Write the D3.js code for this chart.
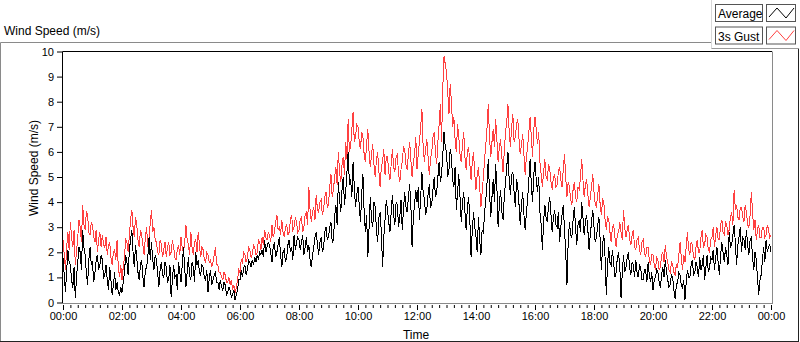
<!DOCTYPE html>
<meta charset="utf-8">
<style>
body{margin:0;background:#fff;}
svg{display:block;font-family:"Liberation Sans",Arial,sans-serif;}
.tick text{font-size:11px;fill:#000;}
.tick line{stroke:#000;}
</style>
<svg id="chart" width="800" height="342"></svg>
<script src="https://d3js.org/d3.v7.min.js"></script>
<script>
// one sample every 2.5 minutes, 00:00 .. 24:00 (24 per row = 1 hour)
const gust = [
  2.5,1.9,1.3,2.2,2.8,2.1,3.2,2.6,2.2,2.9,1.5,2.0,2.6,3.3,3.0,2.4,3.9,3.1,2.9,3.6,3.5,2.8,2.7,3.2,
  3.1,2.6,2.4,2.9,2.0,2.5,2.8,2.2,2.7,2.3,2.2,2.6,1.9,2.3,2.4,1.8,1.5,2.0,2.1,1.7,2.5,1.4,1.0,1.5,
  0.9,1.4,1.8,2.5,2.4,2.0,2.7,3.3,3.7,3.0,2.6,3.4,3.1,2.5,2.2,2.9,2.7,2.3,1.9,2.6,3.0,2.2,2.4,3.2,
  3.7,2.8,3.0,2.5,2.4,2.0,1.9,2.5,2.3,1.8,2.1,2.4,1.8,2.2,2.4,1.9,2.0,2.5,2.2,1.8,1.7,2.1,2.3,1.9,
  2.6,2.2,2.0,2.4,3.1,2.5,2.3,1.9,2.8,2.2,1.9,2.4,2.5,2.0,2.8,2.3,1.8,2.2,2.1,1.7,1.6,2.0,1.9,1.6,
  1.7,1.4,1.6,1.9,2.2,1.5,1.5,1.2,1.2,1.0,0.9,1.2,1.1,0.8,0.8,1.0,0.7,0.9,0.5,0.7,0.4,0.6,0.9,1.3,
  1.2,1.7,1.6,2.0,1.9,1.6,1.8,2.2,2.1,1.8,1.9,2.3,2.2,1.9,2.0,2.5,2.4,2.1,2.6,2.3,2.9,2.6,2.5,2.8,
  2.7,2.4,3.1,2.6,2.8,3.2,3.5,2.9,3.0,2.7,3.3,2.8,2.6,3.0,3.1,2.7,2.8,3.3,3.5,2.9,3.0,3.4,3.2,2.8,
  2.9,3.3,3.4,2.8,3.0,3.5,3.6,3.1,4.6,3.7,3.2,3.6,3.8,3.3,4.3,3.7,3.6,4.0,4.1,3.5,3.7,4.2,4.4,3.8,
  3.9,4.6,5.1,4.2,4.5,5.0,5.4,4.7,6.0,5.2,4.8,5.5,5.8,5.1,6.4,5.7,7.3,6.0,6.2,6.9,7.6,6.4,6.6,7.1,
  7.0,6.4,6.1,6.8,6.6,5.9,5.6,6.3,6.9,6.0,5.4,5.9,6.3,5.5,5.0,5.7,6.0,5.2,4.6,5.4,5.6,6.1,5.1,5.8,
  5.8,5.2,4.9,5.5,6.1,5.4,5.2,5.8,5.9,5.1,4.8,5.3,5.6,6.2,6.1,5.5,5.3,5.9,6.4,5.7,5.0,5.6,5.9,6.6,
  5.3,5.9,6.4,7.0,7.7,6.2,5.6,6.1,6.5,5.8,5.1,5.7,6.0,6.6,6.8,6.0,5.5,6.4,7.1,7.9,6.4,8.6,9.8,9.5,
  9.2,8.4,7.5,8.7,8.0,7.0,7.4,6.5,6.0,7.1,6.6,5.9,5.6,6.3,6.8,5.8,5.3,6.0,6.2,5.5,4.9,5.6,6.0,5.1,
  4.5,5.1,5.4,4.6,3.8,4.4,5.0,5.7,6.3,7.0,7.9,6.6,5.8,6.4,6.9,6.2,7.3,6.5,5.6,6.2,6.5,5.8,5.2,6.0,
  6.8,7.2,7.9,6.8,6.2,7.0,7.5,6.4,6.6,7.1,7.3,6.5,5.9,6.3,6.7,5.9,5.1,5.8,6.2,6.8,7.4,6.6,5.8,6.9,
  7.4,6.9,6.3,6.8,5.6,5.1,4.6,5.2,5.7,5.0,4.9,5.5,5.3,4.8,4.5,5.0,5.1,4.6,4.7,5.2,5.4,4.9,4.6,5.3,
  5.9,5.0,4.2,4.8,4.6,4.1,3.9,4.5,4.8,4.2,4.0,4.6,4.5,5.0,5.7,4.9,4.2,4.7,4.9,4.3,3.8,4.2,4.6,5.1,
  4.4,3.9,3.8,4.3,4.7,3.9,3.5,4.1,4.0,3.3,2.9,3.4,3.3,2.8,2.4,3.0,3.1,2.6,2.2,2.7,2.8,3.2,2.8,2.5,
  3.7,3.0,2.6,2.9,3.1,2.5,2.3,2.7,2.9,2.2,2.1,2.5,2.6,2.1,1.9,2.4,2.5,2.0,1.8,2.2,2.2,1.7,1.5,1.9,
  1.9,1.5,1.3,1.8,1.7,1.3,1.4,1.9,2.0,1.6,2.3,1.8,1.6,1.3,1.2,1.6,1.5,1.2,1.1,1.5,1.4,1.9,2.4,1.8,
  1.3,1.9,1.6,2.2,2.8,2.1,1.9,2.4,2.3,1.8,1.7,2.2,2.5,2.0,2.0,2.6,2.9,2.2,2.3,2.7,2.6,2.1,2.0,2.5,
  2.6,3.0,2.2,2.7,3.0,2.5,2.5,3.1,3.3,2.8,2.7,3.2,3.1,2.7,2.9,3.4,3.6,3.1,4.5,3.7,3.9,3.4,3.3,3.8,
  3.8,3.4,3.2,3.9,3.6,3.1,3.0,3.5,4.4,3.6,2.9,3.3,2.5,2.9,3.1,2.6,2.6,3.0,3.0,2.6,2.7,3.1,2.9,2.6,
  2.7
]
const average = [
  1.8,1.1,0.4,1.3,2.1,1.6,1.5,0.9,0.6,1.4,0.2,1.0,1.6,2.2,2.0,1.3,2.9,2.2,1.9,1.2,0.7,1.7,2.2,1.5,
  1.6,0.8,1.2,1.7,1.9,1.3,1.5,1.9,1.7,1.0,1.1,1.5,0.9,0.5,1.4,0.9,0.3,0.7,1.2,0.5,0.8,0.4,0.3,0.6,
  0.4,0.8,1.2,1.9,1.6,1.1,2.1,2.5,2.9,2.0,1.4,2.3,1.8,1.2,0.9,1.5,1.7,1.0,0.6,1.3,1.4,1.8,2.6,1.7,
  2.4,1.7,1.3,1.9,1.7,1.2,0.6,1.3,1.6,1.1,1.0,1.6,1.4,0.8,0.9,1.5,0.2,0.9,1.5,1.0,1.1,0.5,1.6,1.2,
  0.8,1.5,2.2,1.4,0.6,1.2,1.8,1.1,0.9,1.6,1.4,0.8,2.0,1.5,1.7,1.2,1.1,1.5,1.4,1.0,0.9,1.3,0.4,1.0,
  1.3,0.7,0.9,1.1,1.2,0.8,0.8,0.5,0.9,0.6,0.5,0.8,0.7,0.3,0.4,0.6,0.5,0.2,0.3,0.5,0.1,0.3,0.5,0.9,
  0.9,1.3,1.0,1.4,1.5,1.1,1.3,1.7,1.6,1.4,1.7,1.5,1.8,1.6,1.9,1.7,2.0,1.9,2.1,1.8,2.5,2.0,2.2,2.4,
  2.3,2.0,1.6,2.2,2.4,1.8,2.0,2.3,2.6,1.9,1.4,2.0,2.1,1.6,1.8,2.3,2.5,2.0,2.2,1.7,2.7,2.1,2.4,2.6,
  2.5,2.1,2.4,2.7,1.9,2.2,2.6,2.0,2.3,1.7,1.4,1.9,2.2,2.6,2.8,2.3,1.9,2.4,2.6,2.0,2.2,2.8,3.0,2.5,
  2.6,3.0,3.2,2.4,2.5,3.4,3.9,3.1,4.8,4.1,3.6,4.5,5.0,3.9,4.4,5.2,6.0,4.7,4.9,4.2,5.6,4.6,3.8,4.3,
  4.6,3.9,3.2,4.3,5.1,3.6,2.8,3.5,1.8,3.0,4.2,3.3,3.0,4.0,3.8,2.9,2.4,3.4,3.6,2.8,1.4,2.6,3.3,4.1,
  3.7,3.2,2.8,3.6,4.3,3.5,3.1,4.0,3.9,3.0,3.4,4.1,2.9,3.7,4.4,3.8,3.6,4.2,4.7,3.9,2.2,3.4,3.9,4.5,
  4.0,4.6,3.3,4.2,5.2,4.4,4.1,3.5,3.7,4.3,4.7,3.8,3.9,4.5,5.0,4.2,4.4,5.0,5.6,4.8,5.1,5.9,6.8,6.2,
  6.0,5.0,5.3,6.1,5.8,4.9,4.6,5.4,3.7,4.4,5.1,4.2,3.2,4.0,4.4,3.6,2.9,3.8,4.2,3.3,1.8,2.9,3.6,3.0,
  2.6,2.0,3.4,2.5,1.9,2.9,2.8,3.6,4.1,4.8,5.7,4.4,3.4,4.2,4.9,4.0,5.5,4.6,3.0,3.9,4.5,3.6,3.3,4.2,
  4.8,5.4,6.0,4.9,4.3,5.1,5.2,4.4,3.8,4.9,4.6,3.9,3.1,3.9,4.4,3.5,2.9,3.6,4.1,4.9,5.7,4.7,4.0,5.1,
  5.6,4.9,4.4,5.0,3.6,3.1,2.1,3.2,3.9,3.4,3.2,3.9,4.2,3.5,2.8,3.4,3.7,3.1,3.0,3.6,2.4,3.0,3.5,3.9,
  2.9,2.0,0.7,2.4,3.2,2.7,2.6,3.3,3.8,3.0,2.3,3.1,3.3,2.8,4.0,3.4,2.7,3.2,3.5,2.9,2.1,2.7,3.2,3.7,
  3.0,2.4,2.6,3.1,3.4,2.5,1.3,2.3,2.7,1.8,0.3,1.5,2.2,1.6,1.5,2.1,1.6,1.0,1.2,1.8,2.0,1.4,0.2,1.2,
  1.9,1.2,1.4,1.8,2.0,1.4,1.1,1.6,1.5,1.0,1.7,1.2,1.0,1.5,1.4,0.9,0.9,1.3,1.3,0.8,1.6,1.1,0.8,1.2,
  0.5,0.9,1.0,1.3,1.2,0.8,0.6,1.1,1.4,1.0,1.7,1.2,0.9,0.6,0.7,1.1,1.0,0.5,0.15,0.7,0.8,1.2,1.1,0.7,
  0.6,0.9,0.1,0.8,1.3,1.0,1.0,1.5,1.7,1.1,1.2,1.6,1.4,1.0,1.8,1.3,1.5,1.9,0.9,1.4,1.9,1.2,1.4,1.8,
  1.7,2.1,1.3,1.8,2.2,1.6,1.1,1.9,2.4,2.0,1.6,2.2,1.9,1.5,2.8,2.2,2.3,2.7,3.1,2.4,1.5,2.3,2.6,3.0,
  2.0,2.6,2.5,2.1,2.9,2.3,1.9,2.5,2.6,1.8,1.3,2.0,1.7,1.0,0.3,0.9,1.1,1.7,2.2,1.6,2.5,2.0,2.2,2.3,
  2.0
]
const stepMinutes = 2.5
const yTicks = [0,1,2,3,4,5,6,7,8,9,10]
const seriesNames = ["Average", "3s Gust"]
const seriesColors = ["#000000", "#ff4040"]

const svg = d3.select('#chart')

// outer panel frame
const frame = svg.append('g')
frame.append('line').attr('x1',0.5).attr('y1',42.5).attr('x2',711).attr('y2',42.5).attr('stroke','#8a8a8a')
frame.append('line').attr('x1',0.5).attr('y1',42.5).attr('x2',0.5).attr('y2',341.5).attr('stroke','#8a8a8a')
frame.append('line').attr('x1',0).attr('y1',341.5).attr('x2',799).attr('y2',341.5).attr('stroke','#222')
frame.append('line').attr('x1',798.5).attr('y1',48).attr('x2',798.5).attr('y2',342).attr('stroke','#222')
// legend panel edges
frame.append('line').attr('x1',711.5).attr('y1',0).attr('x2',711.5).attr('y2',48.5).attr('stroke','#d8d8d8')
frame.append('line').attr('x1',711.5).attr('y1',48.5).attr('x2',799).attr('y2',48.5).attr('stroke','#9a9a9a')

svg.append('text').attr('x',4).attr('y',35).style('font-size','12px').text('Wind Speed (m/s)')

const x = d3.scaleLinear().domain([0, 1440]).range([63, 771])
const y = d3.scaleLinear().domain([0, 10]).range([302.5, 51.5])

// plot area border: dark top/left, grey right/bottom
svg.append('line').attr('x1',62.5).attr('y1',51.5).attr('x2',772).attr('y2',51.5).attr('stroke','#000')
svg.append('line').attr('x1',62.5).attr('y1',51.5).attr('x2',62.5).attr('y2',303.5).attr('stroke','#000')
svg.append('line').attr('x1',772.5).attr('y1',51.5).attr('x2',772.5).attr('y2',304).attr('stroke','#8a8a8a')
svg.append('line').attr('x1',62.5).attr('y1',303.5).attr('x2',772.5).attr('y2',303.5).attr('stroke','#8a8a8a')

// y axis
const yAxis = svg.append('g').attr('transform','translate(62,0)')
  .call(d3.axisLeft(y).tickValues(yTicks).tickSize(5).tickPadding(3).tickFormat(d3.format('d')))
yAxis.select('.domain').remove()

// x axis: minor ticks every 15 min, labels every 2 h
const fmt = m => String(Math.floor(m/60) % 24).padStart(2,'0') + ':' + String(m%60).padStart(2,'0')
const xMinor = svg.append('g').attr('transform','translate(0,305)')
  .call(d3.axisBottom(x).tickValues(d3.range(0, 1441, 15)).tickSize(3).tickFormat(''))
xMinor.select('.domain').remove()
const xAxis = svg.append('g').attr('transform','translate(0,305)')
  .call(d3.axisBottom(x).tickValues(d3.range(0, 1441, 120)).tickSize(5).tickPadding(2).tickFormat(fmt))
xAxis.select('.domain').remove()

svg.append('text').attr('x',416).attr('y',338.5).attr('text-anchor','middle').style('font-size','12px').text('Time')
svg.append('text').attr('transform','translate(37.5,168) rotate(-90)').attr('text-anchor','middle')
  .style('font-size','12px').text('Wind Speed (m/s)')

// series (aliased like the original instrument display)
const line = d3.line().x((d,i) => x(i*stepMinutes)).y(d => y(d))
const plot = svg.append('g').attr('shape-rendering','crispEdges')
plot.append('path').datum(gust).attr('d', line).attr('fill','none').attr('stroke', seriesColors[1]).attr('stroke-width',1)
plot.append('path').datum(average).attr('d', line).attr('fill','none').attr('stroke', seriesColors[0]).attr('stroke-width',1)

// legend
const icon = [[769,17],[777,8],[786,18],[794,8]]
const legend = svg.selectAll('g.legend').data(seriesNames).enter().append('g')
  .attr('class','legend').attr('transform',(d,i)=>`translate(0,${i*22.5})`)
legend.append('rect').attr('x',715.5).attr('y',4.5).attr('width',47).attr('height',17)
  .attr('fill','#fff').attr('stroke','#555')
legend.append('text').attr('x',718).attr('y',18).style('font-size','12px').text(d=>d)
legend.append('rect').attr('x',766.5).attr('y',4.5).attr('width',29).attr('height',17)
  .attr('fill','#fff').attr('stroke','#555')
legend.append('path').attr('d', d3.line()(icon)).attr('fill','none')
  .attr('stroke',(d,i)=>seriesColors[i])
</script>
